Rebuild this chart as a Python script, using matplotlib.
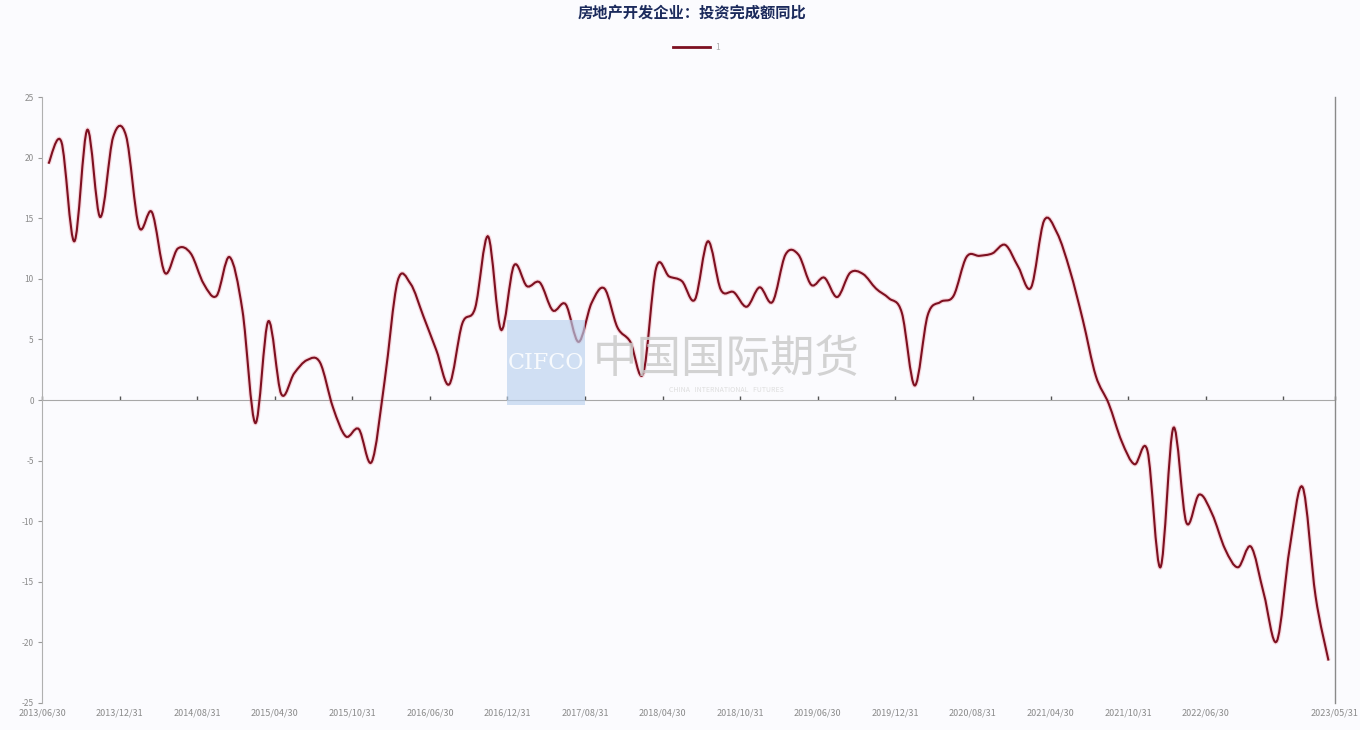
import numpy as np
import pandas as pd
import matplotlib
matplotlib.use("Agg")
import matplotlib.pyplot as plt
from matplotlib.path import Path
from matplotlib.patches import PathPatch, Rectangle
from matplotlib.lines import Line2D

plt.rcParams['font.family'] = ['Noto Sans CJK SC', 'DejaVu Sans']

title = "房地产开发企业：投资完成额同比"
series_name = "1"

# monthly data, January and February are not published
months = pd.date_range("2013-06-30", "2023-05-31", freq="ME")
months = months[~months.month.isin([1, 2])]

values = [
    19.5, 21.3, 13.1, 22.3, 15.1, 21.7, 21.8,
    14.3, 15.5, 10.5, 12.5, 12.1, 9.6, 8.6, 11.8, 7.4, -1.9,
    6.5, 0.5, 2.2, 3.3, 3.1, -0.6, -3.0, -2.4, -5.1, 1.6,
    9.8, 9.6, 6.9, 4.1, 1.3, 6.3, 7.6, 13.5, 5.8, 11.1,
    9.4, 9.7, 7.4, 7.9, 4.8, 8.0, 9.2, 6.0, 4.8, 2.2,
    10.9, 10.2, 9.8, 8.3, 13.1, 9.1, 8.9, 7.7, 9.3, 8.1,
    12.0, 12.0, 9.5, 10.1, 8.5, 10.5, 10.4, 9.2, 8.4, 7.2,
    1.2, 7.0, 8.1, 8.6, 11.8, 11.9, 12.1, 12.8, 11.0, 9.3,
    14.8, 13.8, 10.7, 6.6, 2.0, -0.3, -3.4, -5.3, -4.2, -13.8,
    -2.3, -10.1, -7.8, -9.4, -12.3, -13.8, -12.1, -16.0, -19.9, -12.2,
    -7.2, -16.2, -21.5,
]

y_ticks = [-25, -20, -15, -10, -5, 0, 5, 10, 15, 20, 25]
label_every = 6


def smooth_path(xs, ys):
    """Catmull-Rom curve through the points, drawn as cubic Bezier."""
    pts = np.column_stack([xs, ys]).astype(float)
    n = len(pts)
    verts = [pts[0]]
    codes = [Path.MOVETO]
    for i in range(n - 1):
        p0 = pts[max(i - 1, 0)]
        p1 = pts[i]
        p2 = pts[i + 1]
        p3 = pts[min(i + 2, n - 1)]
        verts += [p1 + (p2 - p0) / 6, p2 - (p3 - p1) / 6, p2]
        codes += [Path.CURVE4] * 3
    return Path(verts, codes)


def main():
    fig = plt.figure(figsize=(13.6, 7.3), dpi=100, facecolor="#fbfbfe")
    ax = fig.add_axes([0.0309, 0.037, 0.9507, 0.830])
    ax.set_facecolor("#fbfbfe")

    x = np.arange(len(values))
    line_color = "#7d1020"

    # watermark
    fig.patches.append(Rectangle((0.3728, 0.4452), 0.0573, 0.1164,
                                 transform=fig.transFigure, facecolor="#b9d1ee",
                                 alpha=0.65, edgecolor="none", zorder=0))
    fig.text(0.4015, 0.503, "CIFCO", color="white", fontsize=16,
             family="DejaVu Serif", ha="center", va="center", alpha=0.85, zorder=1)
    fig.text(0.534, 0.5085, "中国国际期货", color="#cbcbcb", fontsize=32,
             ha="center", va="center", alpha=0.85, zorder=1)
    fig.text(0.534, 0.466, "CHINA   INTERNATIONAL   FUTURES", color="#dedede",
             fontsize=5, ha="center", va="center", zorder=1)

    ax.axhline(0, color="#a8a8a8", lw=0.8, zorder=2)
    ax.add_patch(PathPatch(smooth_path(x, values), fill=False,
                           edgecolor="#e86b7c", lw=3.2, alpha=0.25, zorder=3))
    ax.add_patch(PathPatch(smooth_path(x, values), fill=False,
                           edgecolor=line_color, lw=1.5, zorder=4))

    ax.set_xlim(-0.5, len(values) - 0.5)
    ax.set_ylim(-25, 25)

    # x labels at category boundaries, every 6 months shown
    pos = list(range(0, len(values) - 4, label_every))
    tick_pos = [p - 0.5 for p in pos] + [len(values) - 0.5]
    tick_lab = [months[p].strftime("%Y/%m/%d") for p in pos] + \
        [months[-1].strftime("%Y/%m/%d")]
    ax.set_xticks(tick_pos)
    ax.set_xticklabels(tick_lab, fontsize=6.5, color="#8a8a8a")
    ax.tick_params(axis="x", length=0, pad=4)

    # tick marks on the zero line
    zero_ax = ax.secondary_xaxis(0.5)
    zero_ax.set_xticks(tick_pos + [95.5])
    zero_ax.set_xticklabels([])
    zero_ax.tick_params(axis="x", length=3, width=1, color="#555555",
                        direction="out")
    for sp in zero_ax.spines.values():
        sp.set_visible(False)

    ax.set_yticks(y_ticks)
    ax.set_yticklabels([str(t) for t in y_ticks], fontsize=6, color="#8a8a8a")
    ax.tick_params(axis="y", length=3, color="#9a9a9a", pad=3)

    for side in ["top", "bottom"]:
        ax.spines[side].set_visible(False)
    ax.spines["left"].set_color("#b0b0b0")
    ax.spines["left"].set_linewidth(0.8)
    ax.spines["right"].set_color("#8a8a8a")
    ax.spines["right"].set_linewidth(1.0)

    fig.text(0.509, 0.982, title, fontsize=11, fontweight="bold",
             color="#1b2a5c", ha="center", va="center")

    handle = Line2D([], [], color=line_color, lw=2)
    fig.legend([handle], [series_name], loc="center",
               bbox_to_anchor=(0.512, 0.935), frameon=False, fontsize=6,
               handlelength=4.5, handletextpad=0.6, labelcolor="#aaaaaa")

    fig.savefig("out.png", dpi=100, facecolor=fig.get_facecolor())


if __name__ == "__main__":
    main()
